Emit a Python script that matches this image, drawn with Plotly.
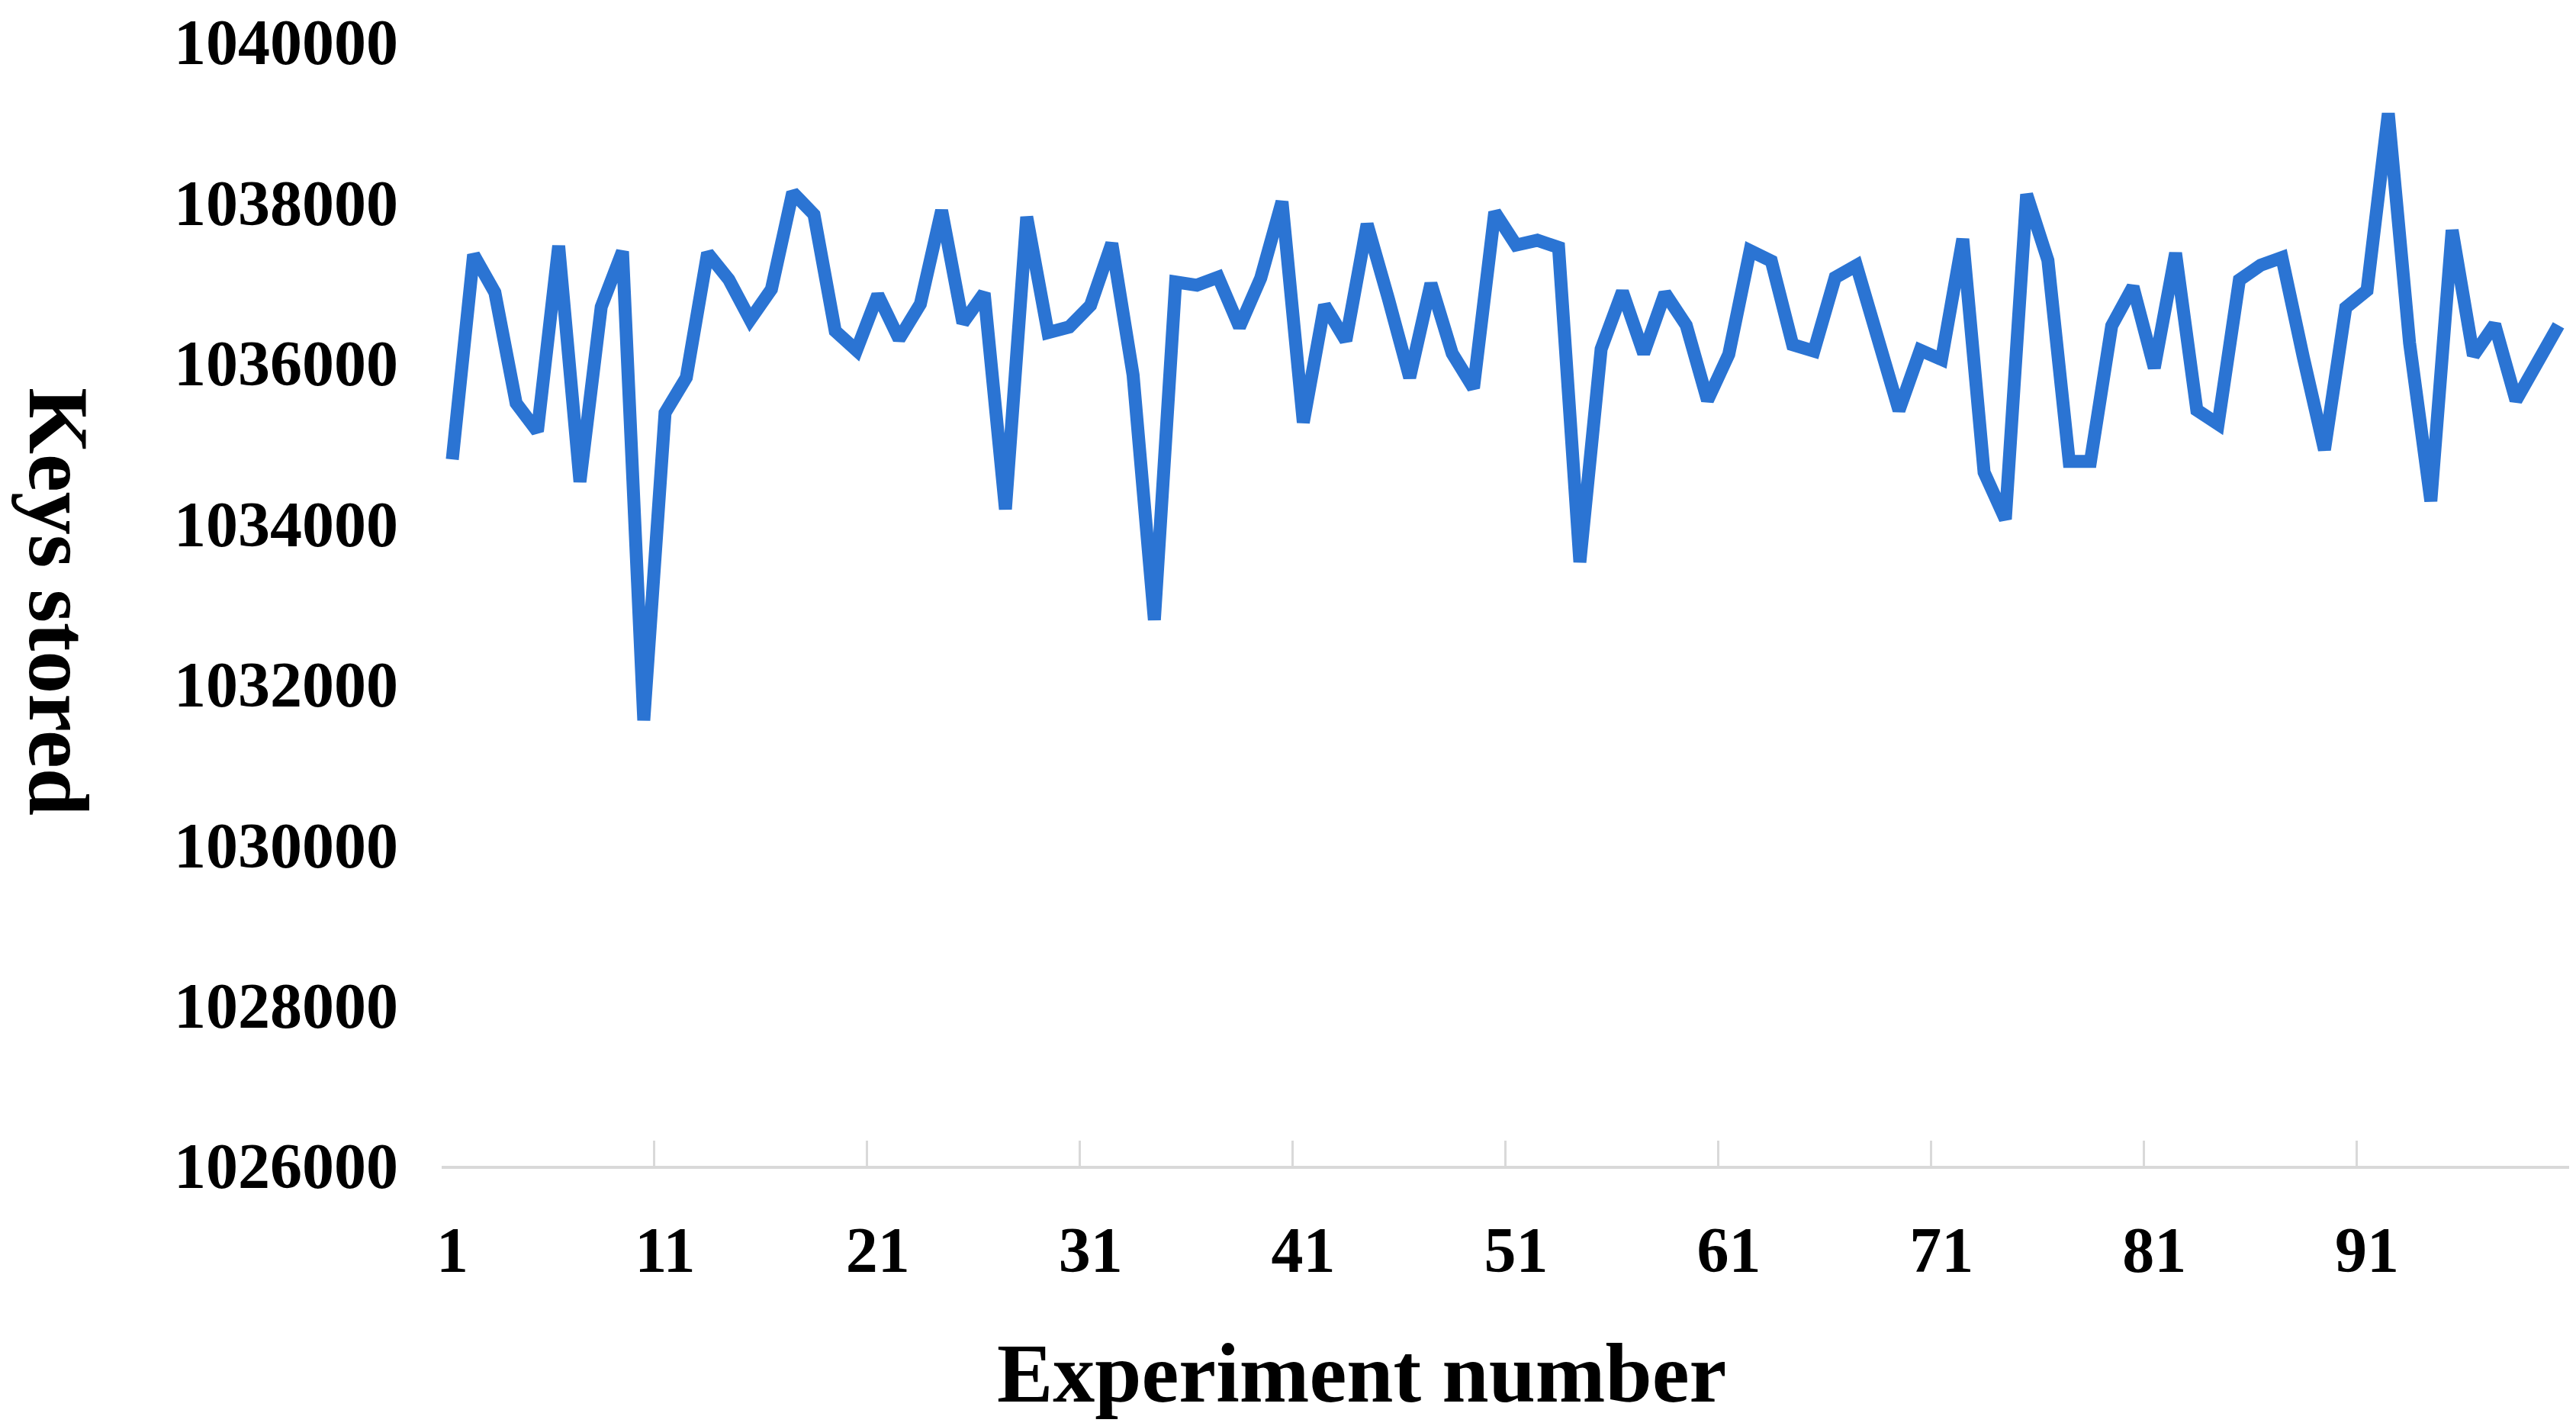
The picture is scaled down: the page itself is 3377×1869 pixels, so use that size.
import plotly.graph_objects as go

experiments = list(range(1, 101))
keys_stored = [
    1034800, 1037350, 1036880, 1035500, 1035150, 1037460, 1034520, 1036700, 1037390, 1031550,
    1035380, 1035820, 1037370, 1037040, 1036540, 1036920, 1038125, 1037850, 1036400, 1036160,
    1036850, 1036300, 1036735, 1037900, 1036500, 1036870, 1034180, 1037820, 1036380, 1036450,
    1036720, 1037490, 1035850, 1032800, 1037010, 1036970, 1037070, 1036450, 1037060, 1038010,
    1035260, 1036720, 1036280, 1037730, 1036800, 1035820, 1036990, 1036120, 1035690, 1037880,
    1037470, 1037530, 1037440, 1033520, 1036175, 1036890, 1036120, 1036870, 1036470, 1035535,
    1036110, 1037400, 1037270, 1036230, 1036150, 1037065, 1037215, 1036350, 1035410, 1036160,
    1036045, 1037545, 1034640, 1034055, 1038100, 1037280, 1034775, 1034775, 1036465, 1036950,
    1035940, 1037370, 1035415, 1035240, 1037035, 1037220, 1037315, 1036080, 1034920, 1036690,
    1036905, 1039110, 1036250, 1034280, 1037655, 1036095, 1036480, 1035535, 1035990, 1036470,
]
x_tick_labels = ["1", "11", "21", "31", "41", "51", "61", "71", "81", "91"]
y_tick_values = [1026000, 1028000, 1030000, 1032000, 1034000, 1036000, 1038000, 1040000]

# category-boundary ticks (Excel style): between categories, labels shifted onto categories
label_cats = [int(t) for t in x_tick_labels]
tick_positions = [c - 0.5 for c in label_cats] + [experiments[-1] + 0.5]
tick_texts = x_tick_labels + [""]

W, H = 3377, 1869
ml, mr, mt, mb = 579, 9, 53, 341
pw, ph = W - ml - mr, H - mt - mb

FONT = "Liberation Serif, Times New Roman, serif"

fig = go.Figure()
fig.add_trace(go.Scatter(
    x=experiments, y=keys_stored, mode="lines",
    line=dict(color="#2B74D3", width=17),
    hoverinfo="x+y",
))

fig.update_layout(
    width=W, height=H,
    margin=dict(l=ml, r=mr, t=mt, b=mb, pad=0),
    paper_bgcolor="white", plot_bgcolor="white",
    showlegend=False,
    font=dict(family=FONT, color="black"),
    xaxis=dict(
        range=[experiments[0] - 0.5, experiments[-1] + 0.5],
        tickmode="array", tickvals=tick_positions, ticktext=tick_texts,
        ticks="inside", ticklen=33, tickwidth=3, tickcolor="#D9D9D9",
        showline=True, linecolor="#D9D9D9", linewidth=4,
        showgrid=False, zeroline=False,
        tickfont=dict(family=FONT, size=84, color="black", weight="bold"),
        ticklabelshift=14, ticklabelstandoff=34,
    ),
    yaxis=dict(
        range=[1026000, 1040000],
        tickmode="array", tickvals=y_tick_values,
        ticktext=[str(v) for v in y_tick_values],
        ticks="", showline=False, showgrid=False, zeroline=False,
        tickfont=dict(family=FONT, size=84, color="black", weight="bold"),
        ticklabelstandoff=56,
    ),
    annotations=[
        dict(text="<b>Experiment number</b>", xref="paper", yref="paper",
             x=(1785 - ml) / pw, y=(H - mb - 1800) / ph,
             xanchor="center", yanchor="middle", showarrow=False,
             font=dict(family=FONT, size=110, color="black")),
        dict(text="<b>Keys stored</b>", xref="paper", yref="paper",
             x=(77 - ml) / pw, y=(H - mb - 787) / ph, textangle=90,
             xanchor="center", yanchor="middle", showarrow=False,
             font=dict(family=FONT, size=112, color="black")),
    ],
)

fig.write_html(
    "out.html",
    config={"displayModeBar": False},
    post_script="document.body.style.margin='0';document.body.style.overflow='hidden';",
)
